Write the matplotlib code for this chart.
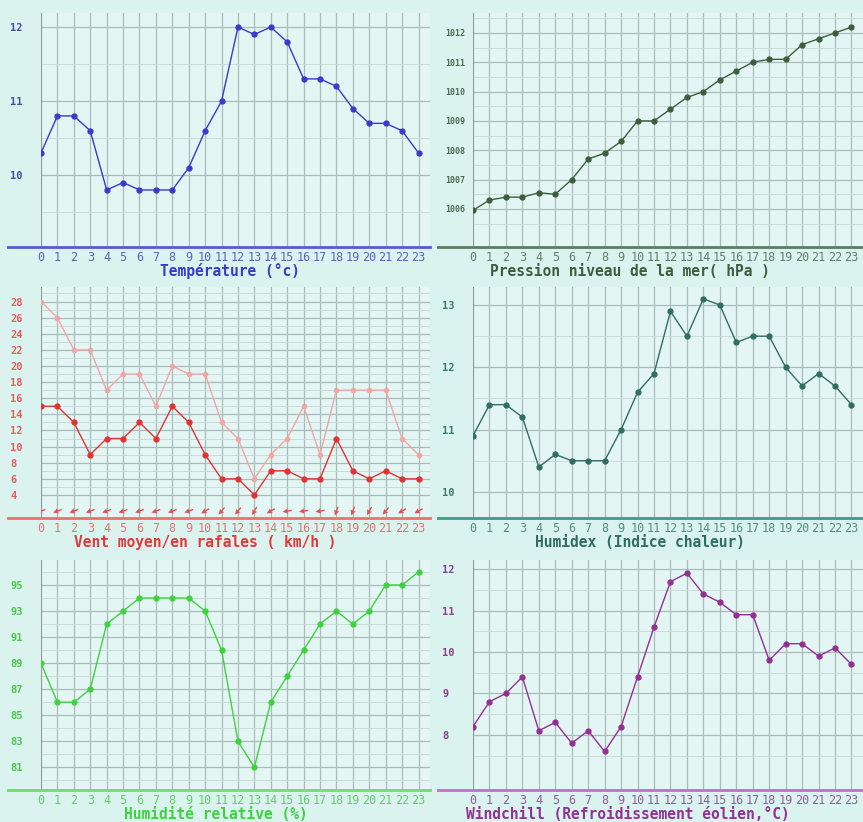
import matplotlib
matplotlib.use("Agg")
import matplotlib.pyplot as plt
import numpy as np

hours = list(range(24))
hour_labels = [str(h) for h in hours]

temperature = [10.3, 10.8, 10.8, 10.6, 9.8, 9.9, 9.8, 9.8, 9.8, 10.1, 10.6, 11.0,
               12.0, 11.9, 12.0, 11.8, 11.3, 11.3, 11.2, 10.9, 10.7, 10.7, 10.6, 10.3]
pressure = [1005.95, 1006.3, 1006.4, 1006.4, 1006.55, 1006.5, 1007.0, 1007.7, 1007.9, 1008.3,
            1009.0, 1009.0, 1009.4, 1009.8, 1010.0, 1010.4, 1010.7, 1011.0, 1011.1, 1011.1,
            1011.6, 1011.8, 1012.0, 1012.2]
wind_mean = [15, 15, 13, 9, 11, 11, 13, 11, 15, 13, 9, 6, 6, 4, 7, 7, 6, 6, 11, 7, 6, 7, 6, 6]
wind_gust = [28, 26, 22, 22, 17, 19, 19, 15, 20, 19, 19, 13, 11, 6, 9, 11, 15, 9, 17, 17, 17, 17, 11, 9]
wind_dir = [70, 70, 70, 70, 70, 70, 70, 70, 70, 70, 60, 40, 40, 30, 60, 80, 80, 80, 20, 20, 30, 40, 60, 60]
humidex = [10.9, 11.4, 11.4, 11.2, 10.4, 10.6, 10.5, 10.5, 10.5, 11.0, 11.6, 11.9,
           12.9, 12.5, 13.1, 13.0, 12.4, 12.5, 12.5, 12.0, 11.7, 11.9, 11.7, 11.4]
humidity = [89, 86, 86, 87, 92, 93, 94, 94, 94, 94, 93, 90, 83, 81, 86, 88, 90, 92, 93, 92, 93, 95, 95, 96]
windchill = [8.2, 8.8, 9.0, 9.4, 8.1, 8.3, 7.8, 8.1, 7.6, 8.2, 9.4, 10.6,
             11.7, 11.9, 11.4, 11.2, 10.9, 10.9, 9.8, 10.2, 10.2, 9.9, 10.1, 9.7]

temp_ticks = [10, 11, 12]
pres_ticks = [1006, 1007, 1008, 1009, 1010, 1011, 1012]
wind_ticks = list(range(4, 30, 2))
humidex_ticks = [10, 11, 12, 13]
hum_ticks = list(range(81, 97, 2))
wc_ticks = [8, 9, 10, 11, 12]

W, H = 863, 822
fig = plt.figure(figsize=(W / 100, H / 100), dpi=100, facecolor="#daf3ef")

MONO = "DejaVu Sans Mono"


def make_ax(left, top, bottom, right):
    return fig.add_axes([left / W, 1 - bottom / H, (right - left) / W, (bottom - top) / H])


def style(ax, ylim, yticks, minor, col_line, col_axis, col_text, xlabel, label_x, axis_ext,
          ysize=7.5, ypad=22):
    ax.set_facecolor("#e4f6f3")
    ax.set_xlim(0, 23.7)
    ax.set_ylim(*ylim)
    for s in ax.spines.values():
        s.set_visible(False)
    ax.set_xticks(hours)
    ax.set_xticklabels(hour_labels, fontfamily=MONO, fontsize=8.5, color=col_text, alpha=0.85)
    ax.set_yticks(yticks)
    ax.set_yticklabels([str(t) for t in yticks], fontfamily=MONO, fontsize=ysize,
                       color=col_text, fontweight="bold")
    ax.set_yticks(minor, minor=True)
    ax.tick_params(axis="x", length=0, pad=3)
    ax.tick_params(axis="y", length=0, pad=ypad)
    ax.tick_params(axis="y", which="minor", length=0)
    for lab in ax.get_yticklabels():
        lab.set_ha("left")
    ax.grid(True, axis="x", color="#a9bcb9", lw=0.9)
    ax.grid(True, axis="y", which="major", color="#a9bcb9", lw=0.9)
    ax.grid(True, axis="y", which="minor", color="#c6d9d5", lw=0.6)
    ax.set_axisbelow(True)
    ax.axvline(0, color="#8a9a98", lw=1.4, zorder=2)
    ax.plot([axis_ext, 1.0], [0, 0], transform=ax.transAxes, clip_on=False,
            color=col_axis, lw=2.0, zorder=3)
    pos = ax.get_position()
    fig.text(label_x / W, pos.y0 - 24 / H, xlabel, fontfamily=MONO, fontsize=10.5,
             fontweight="bold", color=col_line, ha="center", va="center")


def series(ax, vals, color, lw=1.0, ms=3.5):
    ax.plot(hours, vals, color=color, lw=lw, marker="o", ms=ms, mec=color, mfc=color, zorder=4)


# Temperature
ax1 = make_ax(41, 13, 247, 430)
style(ax1, (9.03, 12.19), temp_ticks, [9.5, 10.5, 11.5], "#3a3acb", "#5a5acd", "#4a4aaa",
      "Température (°c)", 230, -0.085)
series(ax1, temperature, "#3a3acb")

# Pressure
ax2 = make_ax(473, 13, 247, 863)
style(ax2, (1004.7, 1012.68), pres_ticks, [1005.5, 1006.5, 1007.5, 1008.5, 1009.5, 1010.5, 1011.5, 1012.5],
      "#3d5e3d", "#5b7d62", "#4d6a55", "Pression niveau de la mer( hPa )", 630, -0.09,
      ysize=6, ypad=20)
series(ax2, pressure, "#3d5e3d")

# Wind
ax3 = make_ax(41, 287, 518, 430)
style(ax3, (1.14, 29.8), wind_ticks, list(range(5, 30, 2)), "#e03a3a", "#ee7070", "#e06060",
      "Vent moyen/en rafales ( km/h )", 205, -0.085)
series(ax3, wind_gust, "#f2a6a6", lw=1.0, ms=3.0)
series(ax3, wind_mean, "#dd3535")
rad = np.deg2rad(np.array(wind_dir, dtype=float))
u = -np.sin(rad)
v = -np.cos(rad)
ax3.quiver(hours, [2.0] * 24, u, v, color="#e05050", scale=42, width=0.0035,
           headwidth=4, headlength=4, headaxislength=3.5, pivot="middle", zorder=5)

# Humidex
ax4 = make_ax(473, 287, 518, 863)
style(ax4, (9.58, 13.29), humidex_ticks, [10.5, 11.5, 12.5], "#2f6e62", "#3f9a8a", "#3f7a70",
      "Humidex (Indice chaleur)", 640, -0.09)
series(ax4, humidex, "#2f6e62")

# Humidity
ax5 = make_ax(41, 560, 790, 430)
style(ax5, (79.26, 96.92), hum_ticks, list(range(80, 97, 2)), "#3ed23e", "#6edc6e", "#4cc84c",
      "Humidité relative (%)", 216, -0.085)
series(ax5, humidity, "#3ed23e")

# Windchill
ax6 = make_ax(473, 560, 790, 863)
style(ax6, (6.67, 12.22), wc_ticks, [7.5, 8.5, 9.5, 10.5, 11.5], "#933093", "#c070c0", "#8a408a",
      "Windchill (Refroidissement éolien,°C)", 628, -0.09)
series(ax6, windchill, "#933093")

fig.savefig("out.png", dpi=100, facecolor=fig.get_facecolor())
